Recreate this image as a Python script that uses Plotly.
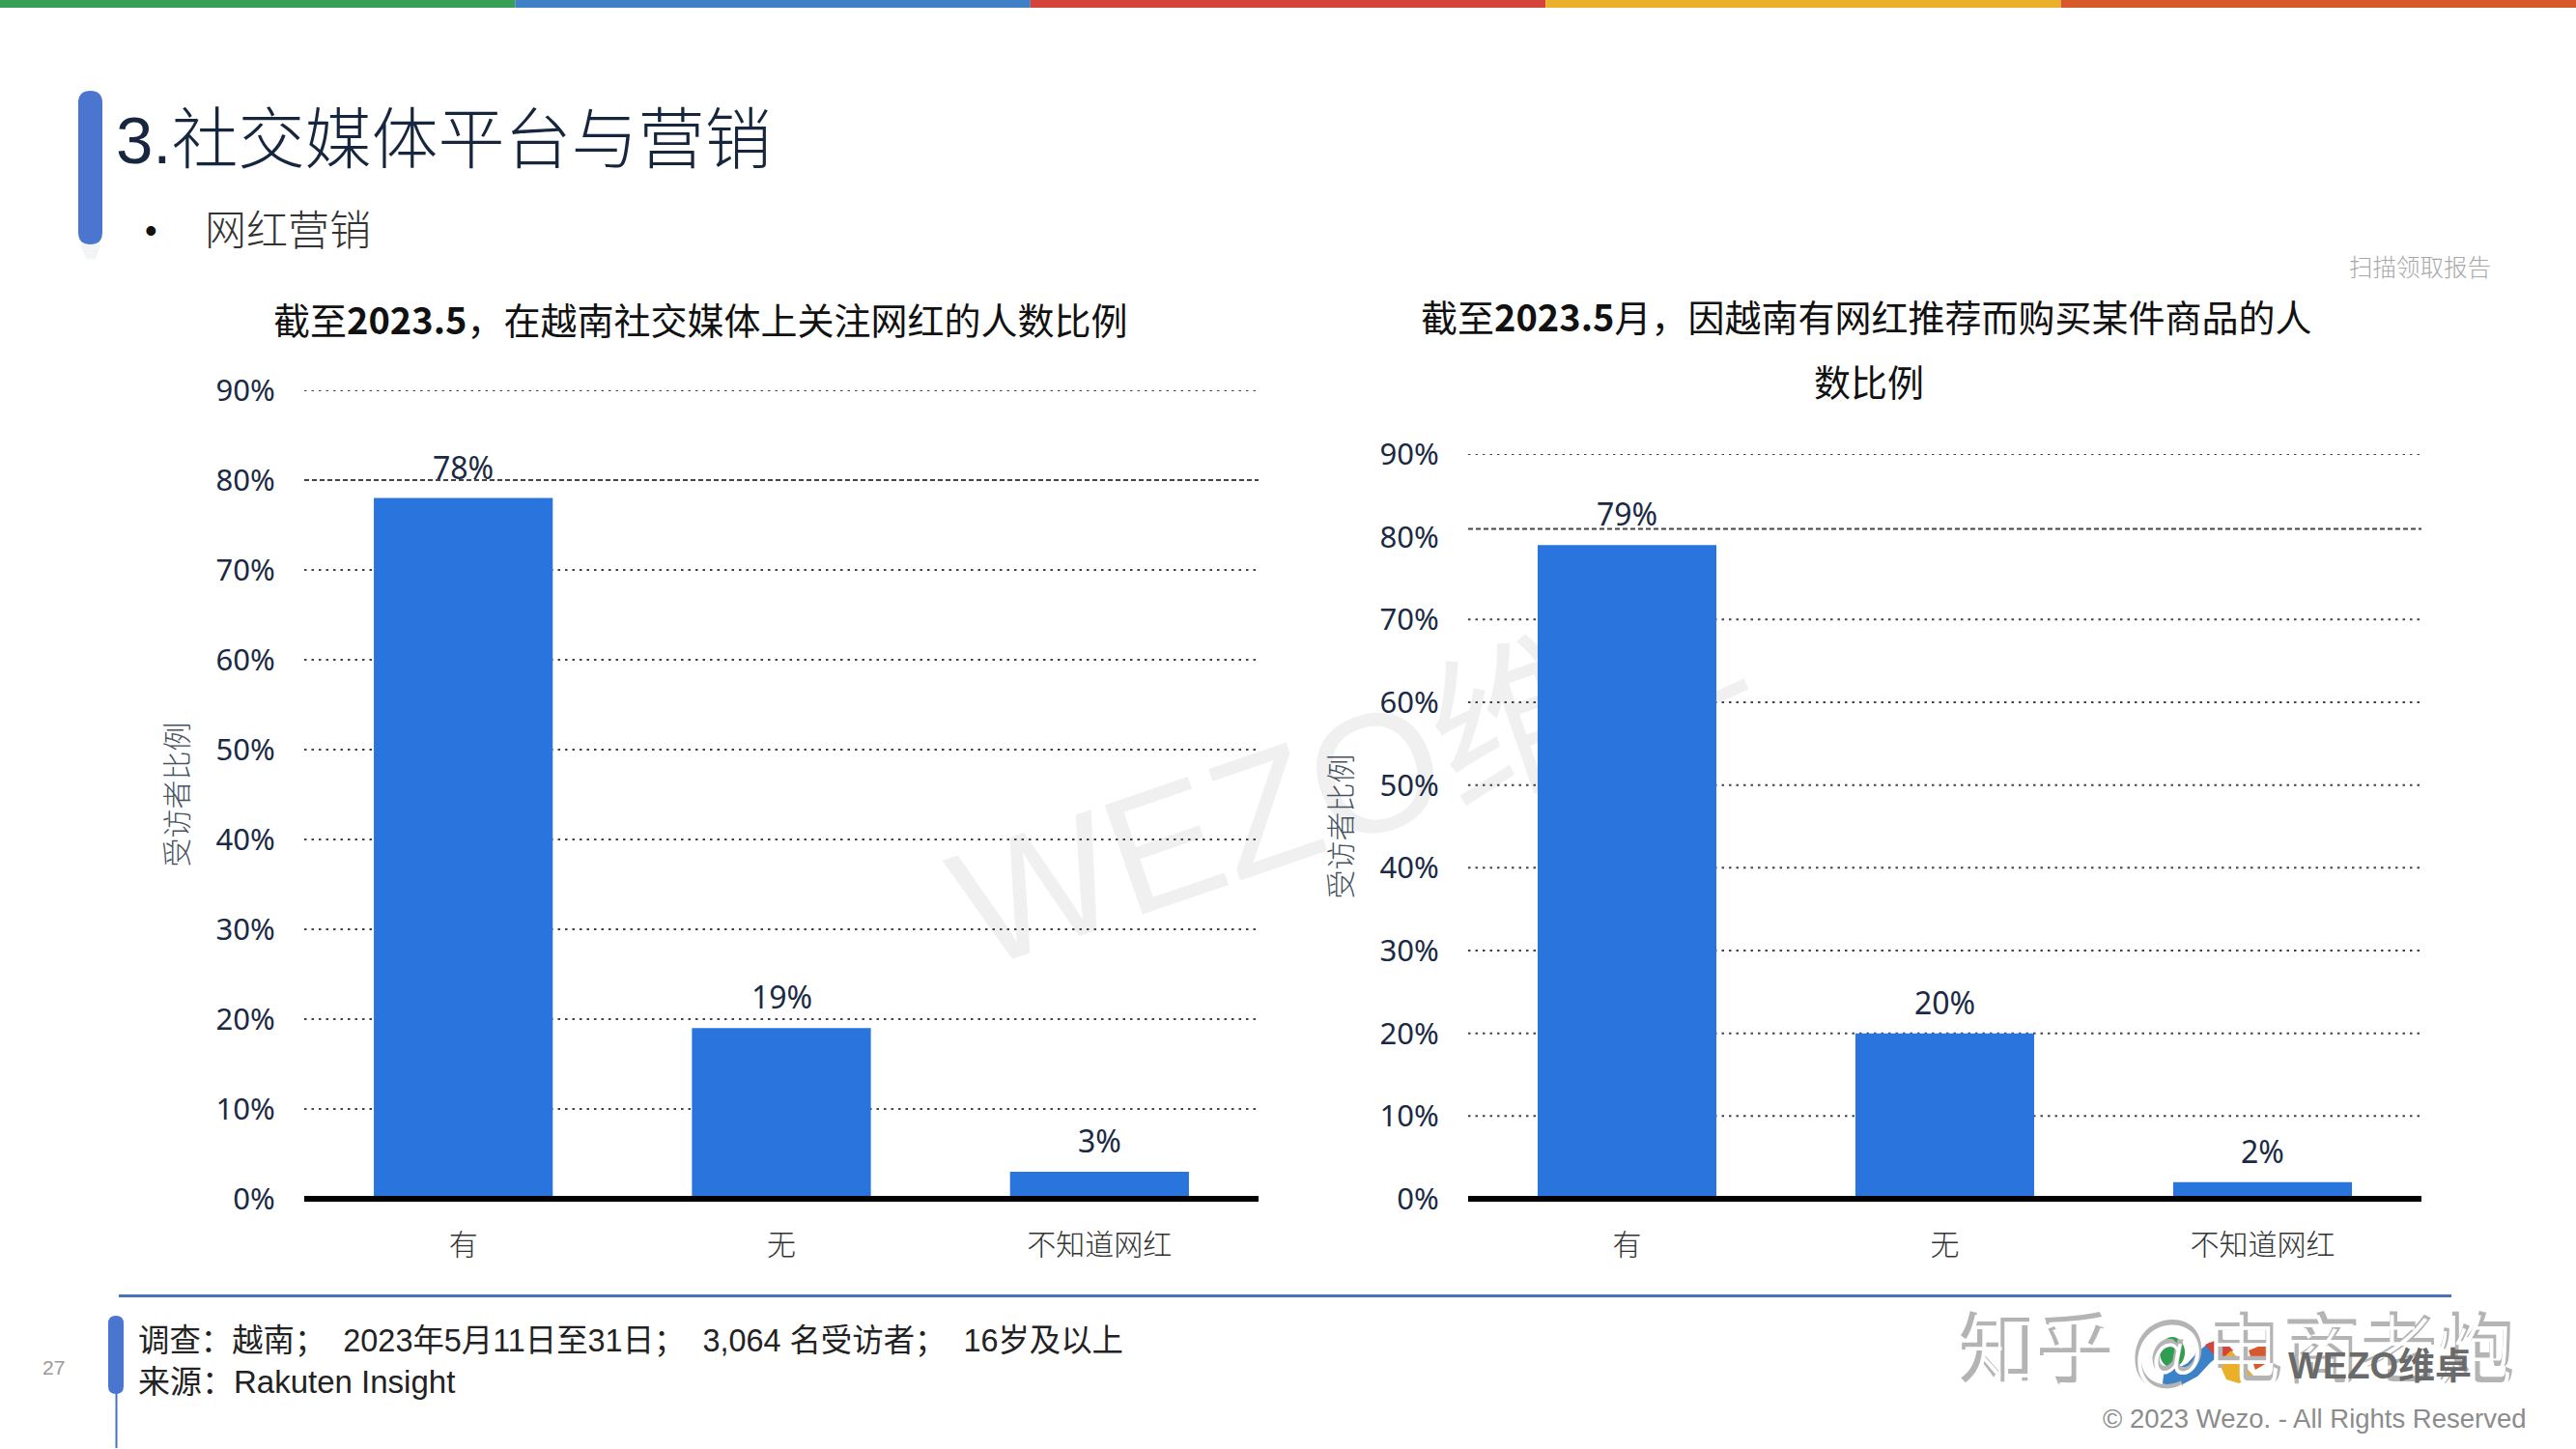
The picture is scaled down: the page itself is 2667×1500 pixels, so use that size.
import plotly.graph_objects as go

W = 2667
H = 1500

# data
categories = ['有', '无', '不知道网红']
follow_values = [78, 19, 3]
buy_values = [79, 20, 2]
tick_values = [0, 10, 20, 30, 40, 50, 60, 70, 80, 90]
tick_labels = ['0%', '10%', '20%', '30%', '40%', '50%', '60%', '70%', '80%', '90%']
y_title = '受访者比例'

top_colors = ['#38A055', '#3F80C6', '#D5443A', '#EAB02A', '#D7592B']

BLUE = '#2A75DD'
NAVY = '#1B2A44'
LINE_BLUE = '#4A72BC'
CJK = 'Noto Sans CJK SC'
LATIN = 'Liberation Sans, Noto Sans CJK SC'
TICK_FONT = 'Noto Sans, Noto Sans CJK SC'


def px(x):
    return x / W


def py(y):
    return 1 - y / H


def text(x, y, s, size, color='#222222', anchor='left', family=CJK, weight=None, angle=0):
    return dict(
        x=px(x), y=py(y), xref='paper', yref='paper', text=s, showarrow=False,
        xanchor=anchor, yanchor='middle', textangle=angle,
        font=dict(size=size, color=color, family=family, weight=weight),
    )


def rect(x0, y0, x1, y1, color, layer='above'):
    return dict(type='rect', xref='paper', yref='paper', x0=px(x0), x1=px(x1), y0=py(y0), y1=py(y1),
                fillcolor=color, line_width=0, layer=layer)


def round_bar(x0, y0, x1, y1, color):
    # pill shape, curves in paper coordinates
    r = (x1 - x0) / 2
    p = f'M {px(x0)} {py(y0 + r)} Q {px(x0)} {py(y0)} {px(x0 + r)} {py(y0)} Q {px(x1)} {py(y0)} {px(x1)} {py(y0 + r)} '
    p += f'L {px(x1)} {py(y1 - r)} Q {px(x1)} {py(y1)} {px(x0 + r)} {py(y1)} Q {px(x0)} {py(y1)} {px(x0)} {py(y1 - r)} Z'
    return dict(type='path', xref='paper', yref='paper', path=p, fillcolor=color, line_width=0, layer='above')


def curve(pts, color, width=0, fill=None):
    p = f'M {px(pts[0][0])} {py(pts[0][1])} '
    for a, b in pts[1:]:
        p += f'L {px(a)} {py(b)} '
    if fill:
        p += 'Z'
    return dict(type='path', xref='paper', yref='paper', path=p, fillcolor=fill or 'rgba(0,0,0,0)',
                line=dict(color=color, width=width), layer='above')


fig = go.Figure()

for name, vals, xa, ya in [('关注网红', follow_values, 'x', 'y'), ('购买商品', buy_values, 'x2', 'y2')]:
    fig.add_trace(go.Bar(
        x=categories, y=vals, xaxis=xa, yaxis=ya, name=name,
        marker=dict(color=BLUE, line_width=0),
        width=0.5625,
    ))

axis_x = dict(
    type='category', range=[-0.5, 2.5], showgrid=False, zeroline=False, showline=False,
    ticks='outside', ticklen=21, tickcolor='rgba(0,0,0,0)', automargin=False,
    tickfont=dict(size=30, color='#333333', family=CJK, weight=300),
)
axis_y = dict(
    range=[0, 90], tickvals=tick_values, ticktext=tick_labels, showgrid=False, zeroline=False, showline=False,
    ticks='outside', ticklen=23, tickcolor='rgba(0,0,0,0)', automargin=False,
    tickfont=dict(size=31, color=NAVY, family=TICK_FONT),
    title=dict(text=y_title, standoff=20, font=dict(size=30, color='#46525F', family=CJK, weight=300)),
)

fig.update_layout(
    width=W, height=H, margin=dict(l=0, r=0, t=0, b=0), paper_bgcolor='white', plot_bgcolor='rgba(0,0,0,0)',
    showlegend=False, bargap=0.4375,
    xaxis=dict(axis_x, domain=[px(315), px(1303)], anchor='y'),
    yaxis=dict(axis_y, domain=[py(1241), py(404)], anchor='x'),
    xaxis2=dict(axis_x, domain=[px(1520), px(2507)], anchor='y2'),
    yaxis2=dict(axis_y, domain=[py(1241), py(470)], anchor='x2'),
)

shapes = []

# watermark behind the bars
shapes.append(dict(
    type='rect', xref='paper', yref='paper', x0=px(1118), x1=px(1518), y0=py(919), y1=py(719),
    line_width=0, fillcolor='rgba(0,0,0,0)', layer='below',
    label=dict(text='WEZO维', textangle=-19, textposition='middle center',
               font=dict(size=174, color='#F0F0F0', family=LATIN)),
))
shapes.append(curve([(1777, 722), (1808, 708)], '#F0F0F0', width=12))
shapes[-1]['layer'] = 'below'

# grid lines, the 80% one is dashed and on the right chart sits a bit high
for ya, xa, offs in [('y', 'x', 0), ('y2', 'x2', 1)]:
    for t in tick_values[1:]:
        is_80 = t == 80
        yv = t + (0.95 * offs if is_80 else 0)
        shapes.append(dict(
            type='line', xref=f'{xa} domain', yref=ya, x0=0, x1=1, y0=yv, y1=yv, layer='below',
            line=dict(color='#444444', width=2, dash='5px,3px' if is_80 else '2.5px,5px'),
        ))
    shapes.append(dict(type='line', xref=f'{xa} domain', yref='paper', x0=0, x1=1, y0=py(1241), y1=py(1241),
                       layer='above', line=dict(color='#000000', width=6)))

# top colour strip
for i, c in enumerate(top_colors):
    shapes.append(rect(i * W / 5, 0, (i + 1) * W / 5, 8, c))

# title bar with soft shadow
for i in range(6):
    shapes.append(rect(84 + i, 253 + i * 2.5, 104 - i, 256 + i * 2.5, 'rgba(120,130,150,0.07)'))
shapes.append(round_bar(81, 94, 106, 253, '#4A76CF'))

# footer
shapes.append(rect(123, 1340, 2538, 1343, LINE_BLUE))
shapes.append(rect(119.5, 1400, 121.5, 1499, LINE_BLUE))
shapes.append(round_bar(112, 1362, 128, 1443, '#4A76CF'))

# logo
shapes.append(curve([(2240, 1424), (2255, 1426), (2270, 1418), (2282, 1405), (2293, 1396)], '#3C82C8', width=17))
shapes.append(dict(type='circle', xref='paper', yref='paper', x0=px(2236), x1=px(2262), y0=py(1416), y1=py(1384),
                   fillcolor='#2F9E50', line_width=0, layer='above'))
shapes.append(curve([(2283, 1392), (2300, 1385), (2312, 1398), (2300, 1412)], '#D5443A', fill='#D5443A'))
shapes.append(curve([(2297, 1410), (2310, 1398), (2333, 1424), (2318, 1432), (2305, 1428)], '#EAB02A', fill='#EAB02A'))
shapes.append(curve([(2328, 1398), (2345, 1391), (2352, 1408), (2335, 1418)], '#D7592B', fill='#D7592B'))

annotations = [
    text(118, 139, '<span style="font-family:Liberation Sans">3.</span>社交媒体平台与营销', 69, '#17263F', weight=300),
    text(156, 238, '•', 36, '#111111', anchor='center', family=LATIN),
    text(210, 235, '网红营销', 43, '#333333', weight=300),
    text(725, 329, '截至<b>2023.5</b>，在越南社交媒体上关注网红的人数比例', 38, '#111111', anchor='center'),
    text(1932, 327, '截至<b>2023.5</b>月，因越南有网红推荐而购买某件商品的人', 38, '#111111', anchor='center'),
    text(1935, 393, '数比例', 38, '#111111', anchor='center'),
    text(2505, 276, '扫描领取报告', 24.5, '#A8A8A8', anchor='center', weight=300),
    text(55, 1415, '27', 21, '#999999', anchor='center', family=LATIN),
    text(141, 1388, '调查：越南；  2023年5月11日至31日；  3,064 名受访者；  16岁及以上', 32.4, '#222222', family=LATIN),
    text(141, 1430, '来源：<span style="font-family:Liberation Sans">Rakuten Insight</span>', 33, '#222222', family=LATIN),
    text(2026, 1390, '知乎 @电商老炮', 80, '#B4B4B4', weight=500),
    text(2029, 1393, '知乎 @电商老炮', 80, '#FFFFFF', weight=300),
    text(2367, 1414, 'WEZO维卓', 38, '#6A6A6A', family=LATIN, weight=700),
    text(2618, 1468, '© 2023 Wezo. - All Rights Reserved', 27.5, '#8C8C8C', anchor='right', family=LATIN),
]

# value labels above the bars
for xa, ya, vals in [('x', 'y', follow_values), ('x2', 'y2', buy_values)]:
    for c, v in zip(categories, vals):
        annotations.append(dict(
            x=c, y=v, xref=xa, yref=ya, text=f'{v}%', showarrow=False, xanchor='center', yanchor='bottom', yshift=9,
            font=dict(size=32, color=NAVY, family=TICK_FONT),
        ))

fig.update_layout(shapes=shapes, annotations=annotations)

fig.write_html('out.html', post_script="document.body.style.margin='0';", config={'displayModeBar': False})
